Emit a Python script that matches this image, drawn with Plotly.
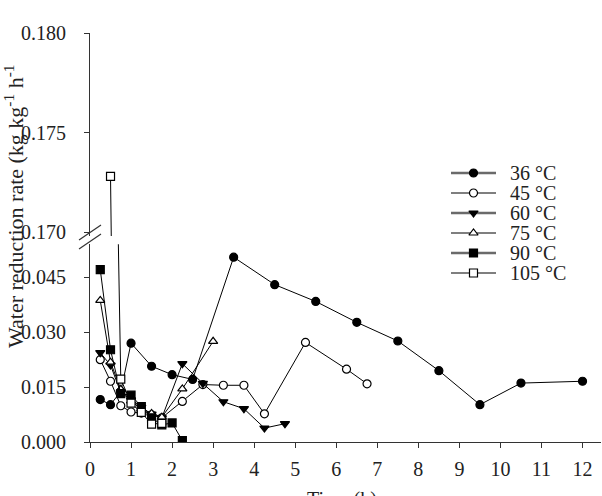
import plotly.graph_objects as go

# ---------------- data ----------------
x36 = [0.25, 0.5, 0.75, 1.0, 1.5, 2.0, 2.5, 3.5, 4.5, 5.5, 6.5, 7.5, 8.5, 9.5, 10.5, 12.0]
y36 = [0.0116, 0.0102, 0.0138, 0.0270, 0.0207, 0.0184, 0.0171, 0.0505, 0.0430, 0.0384,
       0.0327, 0.0276, 0.0195, 0.0102, 0.0161, 0.0166]

x45 = [0.25, 0.5, 0.75, 1.0, 1.25, 1.5, 1.75, 2.25, 2.75, 3.25, 3.75, 4.25, 5.25, 6.25, 6.75]
y45 = [0.0225, 0.0166, 0.0099, 0.0082, 0.0079, 0.0074, 0.0066, 0.0111, 0.0157, 0.0155,
       0.0155, 0.0077, 0.0272, 0.0199, 0.0159]

x60 = [0.25, 0.5, 0.75, 1.0, 1.25, 1.5, 1.75, 2.25, 2.75, 3.25, 3.75, 4.25, 4.75]
y60 = [0.0244, 0.0210, 0.0135, 0.0115, 0.0095, 0.0076, 0.0066, 0.0214, 0.0160, 0.0110,
       0.0091, 0.0038, 0.0050]

x75 = [0.25, 0.5, 0.75, 1.0, 1.25, 1.5, 1.75, 2.25, 3.0]
y75 = [0.0387, 0.0218, 0.0144, 0.0112, 0.0090, 0.0078, 0.0068, 0.0145, 0.0275]

x90 = [0.25, 0.5, 0.75, 1.0, 1.25, 1.5, 1.75, 2.0, 2.25]
y90 = [0.0471, 0.0252, 0.0132, 0.0128, 0.0097, 0.0066, 0.0047, 0.0052, 0.0004]

x105 = [0.5, 0.75, 1.0, 1.25, 1.5, 1.75]
y105 = [0.1728, 0.0172, 0.0106, 0.0081, 0.0049, 0.0051]

names = ["36 °C", "45 °C", "60 °C", "75 °C", "90 °C", "105 °C"]
x_ticks = list(range(0, 13))
y_low_ticks = [0.000, 0.015, 0.030, 0.045]
y_up_ticks = [0.170, 0.175, 0.180]

# ---------------- layout geometry ----------------
W, H = 602, 496
ML, MR, MT, MB = 90, 1, 33, 54
PW, PH = W - ML - MR, H - MT - MB


def px2paper(px, py):
    return (px - ML) / PW, (H - MB - py) / PH


low_top = 0.4832
up_bottom = 0.5037

FONT = "Liberation Serif, Times New Roman, serif"
INK = "#222222"

fig = go.Figure()

series = [
    (x36, y36, names[0], "circle", "black"),
    (x45, y45, names[1], "circle", "white"),
    (x60, y60, names[2], "triangle-down", "black"),
    (x75, y75, names[3], "triangle-up", "white"),
    (x90, y90, names[4], "square", "black"),
    (x105, y105, names[5], "square", "white"),
]

for xs, ys, nm, sym, fill in series:
    fig.add_trace(go.Scatter(
        x=xs, y=ys, name=nm, mode="lines+markers", showlegend=False,
        line=dict(color="black", width=1),
        marker=dict(symbol=sym, size=8, color=fill, line=dict(color="black", width=1.2)),
        xaxis="x", yaxis="y",
    ))

# 105 °C also on the upper (broken) axis
fig.add_trace(go.Scatter(
    x=x105, y=y105, name=names[5], mode="lines+markers", showlegend=False,
    line=dict(color="black", width=1),
    marker=dict(symbol="square", size=8, color="white", line=dict(color="black", width=1.2)),
    xaxis="x", yaxis="y2",
))

# ---------------- legend (drawn on a pixel-coordinate helper subplot) ----------------
leg_rows = [173, 193, 213, 233, 253, 273]
leg_x0, leg_x1, leg_txt = 451, 496, 508
for (xs, ys, nm, sym, fill), ry in zip(series, leg_rows):
    filled = fill == "black"
    fig.add_trace(go.Scatter(
        x=[leg_x0, leg_x1], y=[ry, ry], mode="lines", showlegend=False, hoverinfo="skip",
        line=dict(color="#6a6a6a" if filled else "black", width=2.6 if filled else 1.1),
        xaxis="x3", yaxis="y3",
    ))
    fig.add_trace(go.Scatter(
        x=[(leg_x0 + leg_x1) / 2], y=[ry], mode="markers", showlegend=False, hoverinfo="skip",
        marker=dict(symbol=sym, size=8, color=fill, line=dict(color="black", width=1.2)),
        xaxis="x3", yaxis="y3",
    ))
    fig.add_annotation(text=nm, xref="x3", yref="y3", x=leg_txt, y=ry, xanchor="left",
                       yanchor="middle", showarrow=False,
                       font=dict(family=FONT, size=20, color=INK))

axis_common = dict(showgrid=False, zeroline=False, showline=True, linecolor="#333333",
                   linewidth=1.2, ticks="outside", ticklen=5, tickcolor="#333333",
                   tickfont=dict(family=FONT, size=20, color=INK))

fig.update_layout(
    width=W, height=H,
    margin=dict(l=ML, r=MR, t=MT, b=MB),
    paper_bgcolor="white", plot_bgcolor="rgba(0,0,0,0)",
    font=dict(family=FONT, color=INK),
    xaxis=dict(range=[0, 12.45], tickvals=x_ticks, ticktext=[str(v) for v in x_ticks],
               anchor="y", ticklabelstandoff=4, **axis_common),
    yaxis=dict(domain=[0, low_top], range=[0, 0.054], tickvals=y_low_ticks,
               tickformat=".3f", anchor="x", ticklabelstandoff=14, **axis_common),
    yaxis2=dict(domain=[up_bottom, 1], range=[0.1698, 0.180], tickvals=y_up_ticks,
                tickformat=".3f", anchor="x", ticklabelstandoff=14, **axis_common),
    xaxis3=dict(domain=[0, 1], range=[ML, W - MR], visible=False, fixedrange=True,
                anchor="y3"),
    yaxis3=dict(domain=[0, 1], range=[H - MB, MT], visible=False, fixedrange=True,
                anchor="x3"),
    showlegend=False,
)

# break marks "//"
for (x0, y0, x1, y1) in [(79, 240, 101, 225), (79, 249, 101, 234)]:
    a0 = px2paper(x0, y0)
    a1 = px2paper(x1, y1)
    fig.add_shape(type="line", xref="paper", yref="paper", x0=a0[0], y0=a0[1], x1=a1[0], y1=a1[1],
                  line=dict(color="#333333", width=1.2))

# axis titles
tx, ty = px2paper(342, 486)
fig.add_annotation(text="Time (h)", xref="paper", yref="paper", x=tx, y=ty,
                   xanchor="center", yanchor="top", showarrow=False,
                   font=dict(family=FONT, size=20, color=INK))
yx, yy = px2paper(14, 206)
fig.add_annotation(text="Water reduction rate (kg kg<sup>-1</sup> h<sup>-1</sup>",
                   xref="paper", yref="paper", x=yx, y=yy, textangle=-90,
                   xanchor="center", yanchor="middle", showarrow=False,
                   font=dict(family=FONT, size=22, color=INK))

fig.write_html("out.html")
